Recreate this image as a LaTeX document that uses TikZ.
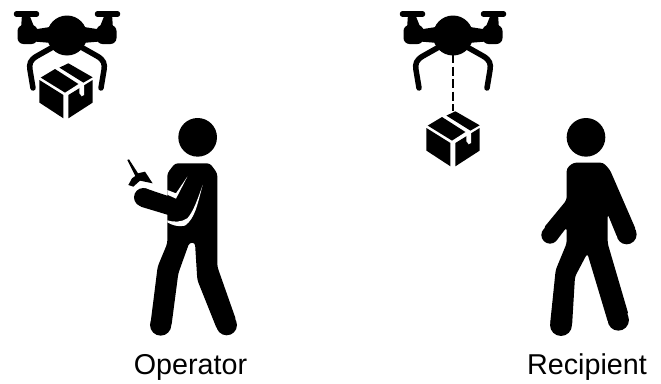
\documentclass[tikz,border=0pt]{standalone}
\usepackage{fontspec}
\setmainfont{Liberation Sans}
\usetikzlibrary{positioning}
\tikzset{
  ink/.style        = {fill=black, draw=none},
  gap/.style        = {fill=white, draw=none},
  strut/.style      = {draw=black, line width=5.5pt, line cap=round},
  tether/.style     = {draw=black, line width=2.2pt, dash pattern=on 9pt off 3.5pt},
  lbl/.style        = {font=\fontsize{28.7}{30}\selectfont, inner sep=0pt, anchor=base},
  pics/drone/.style = {code={
    \fill[ink] (0,0.5) circle (20);
    \foreach \s in {1,-1} {
      \begin{scope}[xscale=\s]
        \draw[strut] (-50.5,-21) -- (-30.5,-21);
        \fill[ink] (-45,-21) -- (-38,-21) -- (-32,-6) -- (-46,-6) -- cycle;
        \fill[ink, rounded corners=6pt] (-49.5,-10) rectangle (-29.5,9);
        \fill[ink] (-33,-5.5) -- (-17,-8) -- (-15,8) -- (-33,6.5) -- cycle;
        \draw[strut, line join=round] (-14,12) -- (-30,21)
          .. controls (-37,25) and (-38,29) .. (-37,35) -- (-34,53);
      \end{scope}
    }
  }},
  pics/parcel/.style = {code={
    \fill[ink] (-26.3,16.7) -- (-2.3,31.7) -- (-2.3,55) -- (-26.3,39.3) -- cycle;
    \fill[ink] (2.7,31.7) -- (27,16.7) -- (27,39.3) -- (2.7,55) -- cycle;
    \fill[gap] (13.7,24) -- (18.3,20.7) -- (18.3,31.7) -- (16,33) -- (13.7,30) -- cycle;
    \fill[ink] (-25,14.3) -- (-10.7,5.7) -- (12.7,20.7) -- (-0.7,29.3) -- cycle;
    \fill[ink] (-6.3,4.3) -- (2.7,0) -- (27,14) -- (17.7,19.3) -- cycle;
  }},
}
\begin{document}
\begin{tikzpicture}[x=1pt, y=-1pt]
  \useasboundingbox (0,0) rectangle (661,383);

  \pic (left) at (67,35) {drone};
  \pic (load) at (65.7,63.3) {parcel};
  \pic (right) at (453,35) {drone};
  \pic (drop) at (452.7,111.3) {parcel};
  \coordinate (hook) at (453,54);
  \coordinate (lid) at (453,111);
  \draw[tether] (hook) -- (lid);

  \begin{scope}[shift={(110,110)}, x=0.3333pt, y=-0.3333pt]
    \fill[ink] (263,82) circle (58);
    \fill[ink] (152,645) circle (32);
    \fill[ink] (350,645) circle (31);
    \fill[ink, rounded corners=3pt] (172,338) -- (172,400) -- (143,470) -- (121,645)
      -- (184,650) -- (205,490) -- (238,398) -- (255,398) -- (262,510) -- (322,660)
      -- (379,632) -- (322,470) -- (322,190) -- (300,160) -- (195,160) -- (172,190) -- (172,338);
    \fill[ink] (100,262) circle (28);
    \fill[ink] (106,235) -- (195,265) -- (232,200) -- (278,225) -- (250,320)
      -- (225,330) -- (92,290) -- cycle;
    \fill[gap] (278,225) .. controls (262,285) and (255,325) .. (225,347)
      .. controls (205,352) and (185,345) .. (172,337) -- (172,331)
      .. controls (190,337) and (215,337) .. (232,325)
      .. controls (250,305) and (262,270) .. (278,225) -- cycle;
    \fill[gap] (232,200) -- (198,266) -- (172,254) -- (172,240) -- (198,250) -- cycle;
    \fill[ink] (52,150) -- (57,148) -- (84,190) -- (105,185) -- (128,220)
      -- (90,212) -- (70,230) -- (55,225) -- (66,205) -- (76,198) -- cycle;
  \end{scope}

  \begin{scope}[shift={(525,110)}, x=0.3333pt, y=-0.3333pt]
    \fill[ink] (183,82) circle (58);
    \fill[ink] (305,373) circle (30);
    \fill[ink] (280,630) circle (32);
    \fill[ink] (108,645) circle (33);
    \fill[ink] (75,375) circle (26);
    \fill[ink, rounded corners=3pt] (125,400) -- (92,480) -- (75,645) -- (141,650)
      -- (150,500) -- (187,430) -- (250,640) -- (311,615) -- (248,400) -- (248,312)
      -- (278,385) -- (334,362) -- (255,180) -- (235,158) -- (145,158) -- (125,175) -- (125,270)
      -- (55,355) -- (92,395) -- (125,352) -- cycle;
  \end{scope}

  \node[lbl] (operator) at (190.5,374) {Operator};
  \node[lbl] (recipient) at (587,374) {Recipient};
\end{tikzpicture}
\end{document}
